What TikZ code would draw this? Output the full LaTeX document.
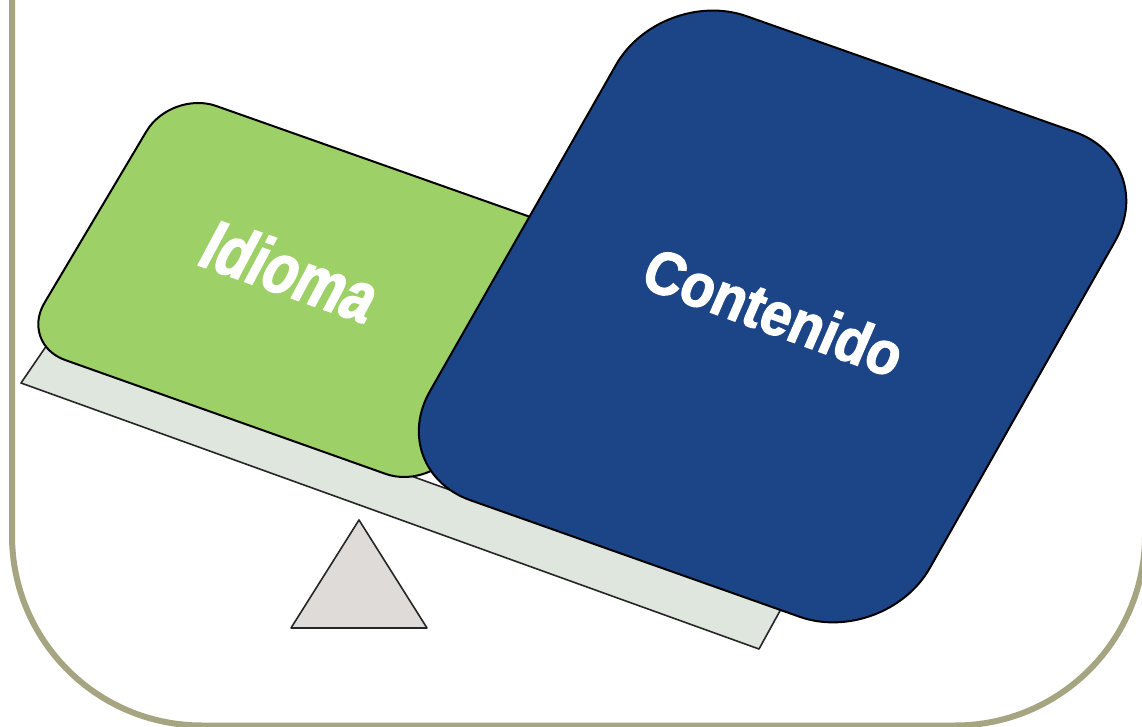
\documentclass[tikz,border=0pt]{standalone}
\usepackage{fontspec}
\newfontfamily\idfont[FakeStretch=0.77,FakeBold=2]{Liberation Sans Bold}
\newfontfamily\cofont[FakeStretch=0.89,FakeBold=2]{Liberation Sans Bold}
\definecolor{framecol}{HTML}{A5A581}
\definecolor{greencol}{HTML}{9DD167}
\definecolor{bluecol}{HTML}{1C4587}
\definecolor{plankcol}{HTML}{DFE6DE}
\definecolor{fulcrumcol}{HTML}{DEDBD8}
\tikzset{
  frameline/.style={draw=framecol,line width=4.5pt},
  edgeblack/.style={draw=black,line width=1.5pt,line join=round},
  thinedge/.style={draw=black!85,line width=1.2pt,line join=round},
  wordlabel/.style={text=white,inner sep=0pt,transform shape},
}
\begin{document}
\begin{tikzpicture}[x=0.75pt,y=-0.75pt]
\useasboundingbox (0,0) rectangle (1142,727);
\clip (0,0) rectangle (1142,727);
\fill[white] (0,0) rectangle (1142,727);
% outer frame
\draw[frameline,rounded corners=142.5pt] (12,-20) -- (12,725.5) -- (1145,725.5) -- (1145,-20);
% plank and fulcrum
\draw[thinedge,fill=plankcol] (21,383) -- (759,649) -- (781,609) -- (47,345) -- cycle;
\draw[thinedge,fill=fulcrumcol] (359,520) -- (427,628) -- (291,628) -- cycle;
% green block
\draw[edgeblack,fill=greencol,rounded corners=36pt] (20,344) -- (171,90) -- (587,237) -- (431,490) -- cycle;
% blue block
\draw[edgeblack,fill=bluecol,rounded corners=68pt] (385,470) -- (661,-14) -- (1160,162) -- (885,647) -- cycle;
% labels
\begin{scope}[shift={(291,271)},cm={0.943,-0.333,0.47,0.88,(0,0)}]
  \node[wordlabel,font=\idfont\fontsize{54}{54}\selectfont] (idioma) at (0,0) {Idioma};
\end{scope}
\begin{scope}[shift={(774,312)},cm={0.94,-0.34,0.4,0.92,(0,0)}]
  \node[wordlabel,font=\cofont\fontsize{46}{46}\selectfont] (contenido) at (0,0) {Contenido};
\end{scope}
\end{tikzpicture}
\end{document}
